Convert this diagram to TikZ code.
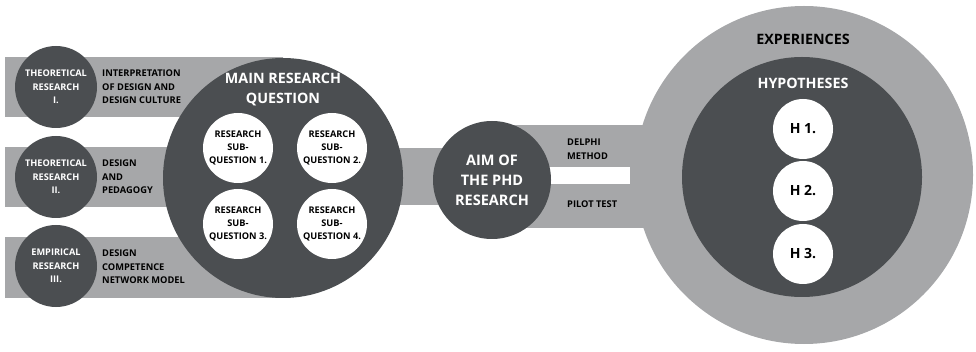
\documentclass[tikz,border=0pt]{standalone}
\usepackage{fontspec}
\setmainfont{Open Sans}

\definecolor{darkgrey}{RGB}{75,78,81}
\definecolor{lightgrey}{RGB}{166,167,169}

\tikzset{
  band/.style={fill=lightgrey, draw=none},
  darkdisc/.style={circle, fill=darkgrey, draw=none, inner sep=0pt, text=white, align=center,
    font=\bfseries\fontsize{9.2}{13.5}\selectfont},
  whitedisc/.style={circle, fill=white, draw=none, inner sep=0pt, text=black, align=center,
    font=\bfseries\fontsize{9.2}{13.3}\selectfont},
  sidetext/.style={anchor=west, align=left, inner sep=0pt, text=black,
    font=\bfseries\fontsize{9.3}{13.5}\selectfont},
  bigtext/.style={align=center, inner sep=0pt, font=\bfseries\fontsize{14.3}{20}\selectfont},
}

\begin{document}
\begin{tikzpicture}[x=1pt,y=-1pt]
\useasboundingbox (0,0) rectangle (976,352);

%Shape: Rectangle - left bands
\fill[band] (5,57) rectangle (283,117);
\fill[band] (5,147) rectangle (283,207);
\fill[band] (5,237) rectangle (283,298);
%Shape: Rectangle - bands to the right
\fill[band] (283,148) rectangle (492,205);
\fill[band] (492,125) rectangle (804,228);
\fill[white] (492,167) rectangle (630,184);

%Shape: Circle - research strands
\node[darkdisc, minimum size=82] (theo1) at (56,87) {THEORETICAL\\RESEARCH\\I.};
\node[darkdisc, minimum size=82] (theo2) at (56,177) {THEORETICAL\\RESEARCH\\II.};
\node[darkdisc, minimum size=82] (empir) at (56,266) {EMPIRICAL\\RESEARCH\\III.};

% Text Node
\node[sidetext] (theo1txt) at (102,87) {INTERPRETATION\\OF DESIGN AND\\DESIGN CULTURE};
\node[sidetext] (theo2txt) at (102,177) {DESIGN\\AND\\PEDAGOGY};
\node[sidetext] (empirtxt) at (102,267) {DESIGN\\COMPETENCE\\NETWORK MODEL};

%Shape: Circle - main question
\node[darkdisc, minimum size=240] (mainq) at (283,178) {};
\node[bigtext, text=white] (mainqtxt) at (283,90) {MAIN RESEARCH\\QUESTION};
\node[whitedisc, minimum size=70] (subq1) at (238,148) {RESEARCH\\SUB-\\QUESTION 1.};
\node[whitedisc, minimum size=70] (subq2) at (332,148) {RESEARCH\\SUB-\\QUESTION 2.};
\node[whitedisc, minimum size=70] (subq3) at (238,224) {RESEARCH\\SUB-\\QUESTION 3.};
\node[whitedisc, minimum size=70] (subq4) at (332,224) {RESEARCH\\SUB-\\QUESTION 4.};

%Shape: Circle - aim
\node[darkdisc, minimum size=118, font=\bfseries\fontsize{14.5}{20}\selectfont] (aim) at (492,180) {AIM OF\\THE PHD\\RESEARCH};

% Text Node
\node[sidetext] (delphi) at (567,149) {DELPHI\\METHOD};
\node[sidetext] (pilot) at (567,204) {PILOT TEST};

%Shape: Circle - experiences and hypotheses
\node[circle, fill=lightgrey, inner sep=0pt, minimum size=338] (exper) at (804,175) {};
\node[darkdisc, minimum size=240] (hypo) at (802,177) {};
\node[bigtext, text=black] (expertxt) at (803,39) {EXPERIENCES};
\node[bigtext, text=white] (hypotxt) at (803,83) {HYPOTHESES};
\node[whitedisc, minimum size=60, font=\bfseries\fontsize{14}{16}\selectfont] (h1) at (803,129) {H 1.};
\node[whitedisc, minimum size=60, font=\bfseries\fontsize{14}{16}\selectfont] (h2) at (803,191) {H 2.};
\node[whitedisc, minimum size=60, font=\bfseries\fontsize{14}{16}\selectfont] (h3) at (803,254) {H 3.};

\end{tikzpicture}
\end{document}
